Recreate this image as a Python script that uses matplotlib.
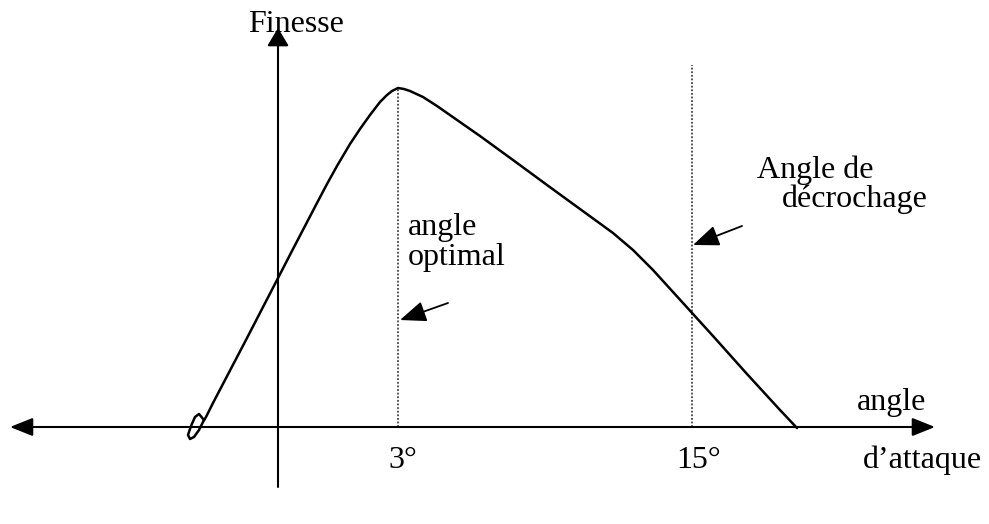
import matplotlib.pyplot as plt

# schematic units: origin where the two axes cross
angle_pts = [-74, -79, -83, -87, -90, -88, -84, -79, -75, -72, -65, -31, -1, 15,
             39, 49, 59, 72, 82, 92, 102, 109, 114, 120, 126, 132, 145, 159,
             169, 202, 235, 269, 302, 335, 355, 375, 395, 415, 435, 469, 502, 519]
finesse_pts = [7, 13, 10, 1, -8, -12, -10, -3, 5, 10, 24, 89, 147, 178,
               224, 243, 261, 283, 298, 312, 325, 332, 336, 339, 338, 336, 330, 321,
               314, 291, 267, 242, 218, 194, 177, 157, 135, 113, 91, 53, 17, -1]

optimal_x = 120
stall_x = 414
optimal_top = 339
stall_top = 362

tick_labels = ["3°", "15°"]

fig = plt.figure(figsize=(9.89, 5.24), dpi=100)
ax = fig.add_axes([0, 0, 1, 1])
ax.set_xlim(-278, 711)
ax.set_ylim(-97, 427)
ax.axis("off")

font = dict(family="Liberation Serif", size=23, color="black")

# axes with arrowheads
ax.annotate("", xy=(-268, 0), xytext=(657, 0),
            arrowprops=dict(arrowstyle="<|-|>,head_length=1.0,head_width=0.4",
                            mutation_scale=14, lw=1.5, color="black",
                            shrinkA=0, shrinkB=0))
ax.annotate("", xy=(0, 399), xytext=(0, -60),
            arrowprops=dict(arrowstyle="-|>,head_length=1.0,head_width=0.6",
                            mutation_scale=11, lw=1.5, color="black",
                            shrinkA=0, shrinkB=0))

# dotted verticals
ax.plot([optimal_x, optimal_x], [0, optimal_top], color="#444444", lw=1.3,
        linestyle=(0, (1, 1)))
ax.plot([stall_x, stall_x], [0, stall_top], color="#444444", lw=1.3,
        linestyle=(0, (1, 1)))

# finesse curve
ax.plot(angle_pts, finesse_pts, color="black", lw=1.8,
        solid_joinstyle="round", solid_capstyle="round")

# small pointing arrows
ax.annotate("", xy=(122, 107), xytext=(170, 124),
            arrowprops=dict(arrowstyle="-|>,head_length=1.0,head_width=0.4",
                            mutation_scale=16, lw=1.3, color="black",
                            shrinkA=0, shrinkB=0))
ax.annotate("", xy=(415, 182), xytext=(464, 201),
            arrowprops=dict(arrowstyle="-|>,head_length=1.0,head_width=0.4",
                            mutation_scale=16, lw=1.3, color="black",
                            shrinkA=0, shrinkB=0))

# texts
ax.text(-30, 395, "Finesse", ha="left", va="baseline", **font)
ax.text(125, -41, tick_labels[0], ha="center", va="baseline", **font)
ax.text(421, -41, tick_labels[1], ha="center", va="baseline", **font)
ax.text(579, 17, "angle", ha="left", va="baseline", **font)
ax.text(585, -41, "d\u2019attaque", ha="left", va="baseline", **font)
ax.text(130, 192, "angle", ha="left", va="baseline", **font)
ax.text(130, 162, "optimal", ha="left", va="baseline", **font)
ax.text(479, 249, "Angle de", ha="left", va="baseline", **font)
ax.text(504, 220, "décrochage", ha="left", va="baseline", **font)

fig.savefig("out.png", dpi=100, facecolor="white")
